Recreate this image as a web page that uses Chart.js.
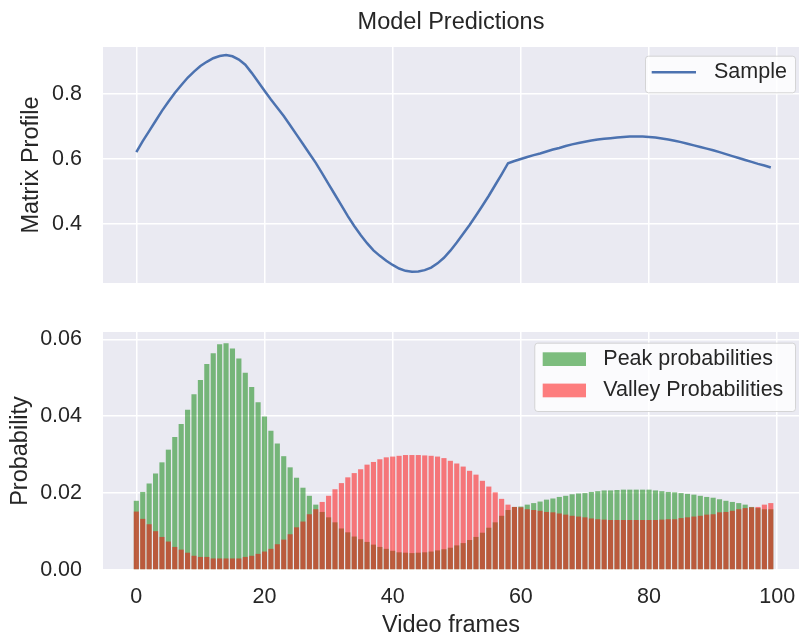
<!DOCTYPE html>
<html>
<head>
<meta charset="utf-8">
<script src="https://cdn.jsdelivr.net/npm/chart.js@4.4.1/dist/chart.umd.min.js"></script>
<style>
  html, body { margin: 0; padding: 0; background: #fff; }
  #wrap { position: relative; width: 799px; height: 635px; }
  #top { position: absolute; left: 0; top: 0; }
  #bottom { position: absolute; left: 0; top: 300px; }
</style>
</head>
<body>
<div id="wrap">
  <canvas id="top" width="799" height="300"></canvas>
  <canvas id="bottom" width="799" height="335"></canvas>
</div>
<script>
// frame index 0..99
const frames = Array.from({ length: 100 }, (_, i) => i);

// matrix profile of the sample
const sample = [
  0.621, 0.655, 0.686, 0.717, 0.748, 0.776, 0.803, 0.827, 0.850, 0.869,
  0.886, 0.899, 0.910, 0.917, 0.920, 0.916, 0.906, 0.890, 0.865, 0.838,
  0.810, 0.783, 0.758, 0.732, 0.704, 0.675, 0.646, 0.617, 0.588, 0.556,
  0.523, 0.490, 0.457, 0.424, 0.394, 0.366, 0.341, 0.319, 0.302, 0.287,
  0.274, 0.263, 0.256, 0.253, 0.254, 0.258, 0.266, 0.279, 0.296, 0.318,
  0.343, 0.370, 0.397, 0.426, 0.456, 0.487, 0.520, 0.553, 0.587, 0.594,
  0.600, 0.606, 0.612, 0.617, 0.623, 0.629, 0.634, 0.640, 0.645, 0.649,
  0.653, 0.657, 0.660, 0.662, 0.664, 0.666, 0.668, 0.669, 0.669, 0.669,
  0.668, 0.666, 0.663, 0.660, 0.656, 0.652, 0.647, 0.642, 0.637, 0.632,
  0.627, 0.621, 0.615, 0.609, 0.603, 0.597, 0.591, 0.585, 0.580, 0.574
];

const peakProb = [
  0.0180, 0.0203, 0.0225, 0.0251, 0.0280, 0.0313, 0.0346, 0.0380, 0.0417, 0.0457,
  0.0494, 0.0536, 0.0564, 0.0587, 0.0590, 0.0576, 0.0550, 0.0513, 0.0476, 0.0436,
  0.0399, 0.0362, 0.0329, 0.0296, 0.0267, 0.0240, 0.0214, 0.0193, 0.0170, 0.0151,
  0.0137, 0.0124, 0.0108, 0.0098, 0.0087, 0.0080, 0.0073, 0.0066, 0.0060, 0.0055,
  0.0050, 0.0046, 0.0045, 0.0044, 0.0045, 0.0046, 0.0048, 0.0051, 0.0054, 0.0058,
  0.0064, 0.0070, 0.0078, 0.0086, 0.0097, 0.0110, 0.0124, 0.0141, 0.0156, 0.0164,
  0.0165, 0.0170, 0.0174, 0.0178, 0.0183, 0.0186, 0.0190, 0.0193, 0.0197, 0.0199,
  0.0200, 0.0203, 0.0205, 0.0207, 0.0207, 0.0208, 0.0209, 0.0209, 0.0209, 0.0209,
  0.0209, 0.0207, 0.0205, 0.0203, 0.0202, 0.0200, 0.0198, 0.0196, 0.0193, 0.0190,
  0.0188, 0.0184, 0.0180, 0.0177, 0.0174, 0.0170, 0.0164, 0.0161, 0.0158, 0.0158
];

const valleyProb = [
  0.0152, 0.0133, 0.0119, 0.0101, 0.0086, 0.0074, 0.0060, 0.0053, 0.0045, 0.0037,
  0.0034, 0.0034, 0.0030, 0.0030, 0.0030, 0.0030, 0.0030, 0.0034, 0.0037, 0.0042,
  0.0048, 0.0055, 0.0067, 0.0079, 0.0093, 0.0111, 0.0126, 0.0145, 0.0158, 0.0177,
  0.0193, 0.0210, 0.0226, 0.0241, 0.0252, 0.0262, 0.0274, 0.0281, 0.0288, 0.0293,
  0.0295, 0.0297, 0.0299, 0.0299, 0.0299, 0.0298, 0.0297, 0.0295, 0.0291, 0.0284,
  0.0277, 0.0269, 0.0258, 0.0248, 0.0232, 0.0217, 0.0202, 0.0185, 0.0170, 0.0164,
  0.0163, 0.0158, 0.0156, 0.0154, 0.0151, 0.0150, 0.0147, 0.0144, 0.0141, 0.0139,
  0.0137, 0.0134, 0.0132, 0.0131, 0.0130, 0.0130, 0.0130, 0.0130, 0.0130, 0.0130,
  0.0130, 0.0130, 0.0131, 0.0132, 0.0132, 0.0135, 0.0137, 0.0139, 0.0141, 0.0144,
  0.0145, 0.0150, 0.0151, 0.0154, 0.0158, 0.0161, 0.0163, 0.0164, 0.0170, 0.0174
];

const xTicks = [0, 20, 40, 60, 80, 100];
const profileTicks = [0.4, 0.6, 0.8];
const probTicks = [0, 0.02, 0.04, 0.06];

const FONT = "'Liberation Sans', Arial, sans-serif";
const TEXT = '#262626';
Chart.defaults.font.family = FONT;
Chart.defaults.color = TEXT;

// seaborn-ish grey axes face
const axesBackground = {
  id: 'axesBackground',
  beforeDraw(chart) {
    const { ctx, chartArea: a } = chart;
    ctx.save();
    ctx.fillStyle = '#EAEAF2';
    ctx.fillRect(a.left, a.top, a.right - a.left, a.bottom - a.top);
    ctx.restore();
  }
};

// matplotlib style legend box in the upper right of the axes
const boxLegend = {
  id: 'boxLegend',
  afterDatasetsDraw(chart, args, opts) {
    const { ctx, chartArea: a } = chart;
    const left = a.right - opts.right - opts.width;
    const top = a.top + opts.top;
    ctx.save();
    ctx.beginPath();
    ctx.roundRect(left + 0.5, top + 0.5, opts.width, opts.height, 3);
    ctx.fillStyle = 'rgba(255,255,255,0.8)';
    ctx.fill();
    ctx.strokeStyle = 'rgba(204,204,204,0.8)';
    ctx.lineWidth = 1;
    ctx.stroke();
    ctx.font = '21.5px ' + FONT;
    ctx.textBaseline = 'middle';
    chart.data.datasets.forEach((ds, i) => {
      const y = top + opts.firstRow + i * opts.rowGap;
      if (opts.marker === 'line') {
        ctx.beginPath();
        ctx.moveTo(left + 6.7, y);
        ctx.lineTo(left + 51, y);
        ctx.strokeStyle = ds.borderColor;
        ctx.lineWidth = ds.borderWidth;
        ctx.stroke();
      } else {
        ctx.fillStyle = ds.backgroundColor;
        ctx.fillRect(left + 8.4, y - 6.9, 43.3, 13.7);
      }
      ctx.fillStyle = TEXT;
      ctx.fillText(ds.label, left + 69, y);
    });
    ctx.restore();
  }
};

// keep the plot area where the reference has it: no label overhang padding
function fixBox(size) {
  return (s) => {
    if (s.isHorizontal()) s.height = size; else s.width = size;
    s.paddingLeft = s.paddingRight = s.paddingTop = s.paddingBottom = 0;
  };
}

const tickFont = { size: 21.5 };
const labelFont = { size: 23.5, lineHeight: 1 };
const gridStyle = { color: '#ffffff', lineWidth: 1.5, drawTicks: false };

new Chart(document.getElementById('top'), {
  type: 'line',
  data: {
    datasets: [{
      label: 'Sample',
      data: frames.map((f, i) => ({ x: f, y: sample[i] })),
      borderColor: '#4C72B0',
      borderWidth: 2.5,
      pointRadius: 0,
      tension: 0
    }]
  },
  options: {
    responsive: false,
    animation: false,
    events: [],
    layout: { padding: 0 },
    plugins: {
      legend: { display: false },
      tooltip: { enabled: false },
      title: {
        display: true,
        text: 'Model Predictions',
        fullSize: false,
        color: TEXT,
        font: { size: 23.5, weight: 'normal', lineHeight: 1.2 },
        padding: { top: 8, bottom: 10.8 }
      },
      boxLegend: { right: 4, top: 8.7, width: 150, height: 36.6, firstRow: 16.6, rowGap: 31, marker: 'line' }
    },
    scales: {
      x: {
        type: 'linear',
        min: -5.2,
        max: 103.4,
        grid: gridStyle,
        border: { display: false },
        ticks: { display: false },
        afterBuildTicks: (s) => { s.ticks = xTicks.map(v => ({ value: v })); },
        afterFit: fixBox(17)
      },
      y: {
        min: 0.2185,
        max: 0.9446,
        grid: gridStyle,
        border: { display: false },
        ticks: { font: tickFont, color: TEXT, padding: 21, callback: (v) => v.toFixed(1) },
        afterBuildTicks: (s) => { s.ticks = profileTicks.map(v => ({ value: v })); },
        afterFit: fixBox(103),
        title: { display: true, text: 'Matrix Profile', font: labelFont, color: TEXT, padding: { top: 20, bottom: 0 } }
      }
    }
  },
  plugins: [axesBackground, boxLegend]
});

const barStyle = {
  borderWidth: 0,
  inflateAmount: 0,
  grouped: false,
  barPercentage: 0.8,
  categoryPercentage: 1
};

new Chart(document.getElementById('bottom'), {
  type: 'bar',
  data: {
    datasets: [
      {
        label: 'Peak probabilities',
        data: frames.map((f, i) => ({ x: f, y: peakProb[i] })),
        backgroundColor: 'rgba(0,128,0,0.5)',
        order: 2,
        ...barStyle
      },
      {
        label: 'Valley Probabilities',
        data: frames.map((f, i) => ({ x: f, y: valleyProb[i] })),
        backgroundColor: 'rgba(255,0,0,0.5)',
        order: 1,
        ...barStyle
      }
    ]
  },
  options: {
    responsive: false,
    animation: false,
    events: [],
    layout: { padding: { top: 32, left: 0, right: 0, bottom: 0 } },
    plugins: {
      legend: { display: false },
      tooltip: { enabled: false },
      boxLegend: { right: 4, top: 10.7, width: 260.7, height: 68.3, firstRow: 16.5, rowGap: 31.3, marker: 'patch' }
    },
    scales: {
      x: {
        type: 'linear',
        min: -5.2,
        max: 103.4,
        offset: false,
        grid: { ...gridStyle, offset: false },
        border: { display: false },
        ticks: { font: tickFont, color: TEXT, padding: 14.5, callback: (v) => String(v) },
        afterBuildTicks: (s) => { s.ticks = xTicks.map(v => ({ value: v })); },
        afterFit: fixBox(65),
        title: { display: true, text: 'Video frames', font: labelFont, color: TEXT, padding: { top: 0, bottom: -2 } }
      },
      y: {
        min: 0,
        max: 0.0619,
        grid: gridStyle,
        border: { display: false },
        ticks: { font: tickFont, color: TEXT, padding: 21, callback: (v) => v.toFixed(2) },
        afterBuildTicks: (s) => { s.ticks = probTicks.map(v => ({ value: v })); },
        afterFit: fixBox(103),
        title: { display: true, text: 'Probability', font: labelFont, color: TEXT, padding: { top: 9, bottom: 0 } }
      }
    }
  },
  plugins: [axesBackground, boxLegend]
});
</script>
</body>
</html>
